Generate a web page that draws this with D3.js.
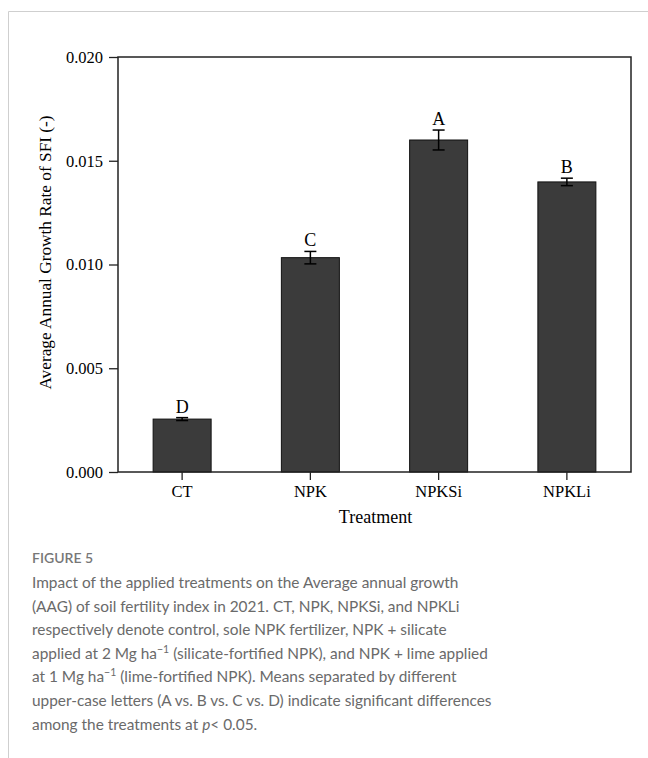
<!DOCTYPE html>
<html>
<head>
<meta charset="utf-8">
<script src="https://cdn.jsdelivr.net/npm/d3@7"></script>
<style>
  html, body { margin: 0; padding: 0; background: #fff; }
  svg { display: block; }
</style>
</head>
<body>
<svg id="fig" width="648" height="758"></svg>
<script>
// Treatments and their average annual growth rate of SFI
const treatments = ["CT", "NPK", "NPKSi", "NPKLi"];
const growthRate = [0.00255, 0.01033, 0.0160, 0.01398];
const errorSize = [0.00007, 0.00030, 0.00048, 0.00018];
const groupLetters = ["D", "C", "A", "B"];
const yTicks = [0, 0.005, 0.010, 0.015, 0.020];

const captionLines = [
  [{t: "Impact of the applied treatments on the Average annual growth"}],
  [{t: "(AAG) of soil fertility index in 2021. CT, NPK, NPKSi, and NPKLi"}],
  [{t: "respectively denote control, sole NPK fertilizer, NPK + silicate"}],
  [{t: "applied at 2 Mg ha"}, {t: "\u22121", sup: true}, {t: " (silicate-fortified NPK), and NPK + lime applied"}],
  [{t: "at 1 Mg ha"}, {t: "\u22121", sup: true}, {t: " (lime-fortified NPK). Means separated by different"}],
  [{t: "upper-case letters (A vs. B vs. C vs. D) indicate significant differences"}],
  [{t: "among the treatments at "}, {t: "p", it: true}, {t: "< 0.05."}]
];

const svg = d3.select("#fig");
const serif = "'Liberation Serif', 'Times New Roman', serif";

// card outline
svg.append("path")
  .attr("d", "M8.5,758 V11.5 H648")
  .attr("fill", "none").attr("stroke", "#cfcfcf").attr("stroke-width", 1);

const plot = {left: 118, right: 631, top: 57, bottom: 472};

const x = d3.scaleBand().domain(treatments).range([plot.left, plot.right]).paddingInner(0.55).paddingOuter(0.275);
const y = d3.scaleLinear().domain([0, 0.020]).range([plot.bottom, plot.top]);

// bars
svg.append("g").selectAll("rect").data(treatments).join("rect")
  .attr("x", d => x(d) + x.bandwidth() / 2 - 29)
  .attr("width", 58)
  .attr("y", (d, i) => y(growthRate[i]))
  .attr("height", (d, i) => y(0) - y(growthRate[i]))
  .attr("fill", "#3b3b3b").attr("stroke", "#111").attr("stroke-width", 1);

// error bars
const eb = svg.append("g").attr("stroke", "#000").attr("stroke-width", 1.5);
treatments.forEach((d, i) => {
  const cx = x(d) + x.bandwidth() / 2;
  const y1 = y(growthRate[i] + errorSize[i]);
  const y2 = y(growthRate[i] - errorSize[i]);
  eb.append("line").attr("x1", cx).attr("x2", cx).attr("y1", y1).attr("y2", y2);
  eb.append("line").attr("x1", cx - 6).attr("x2", cx + 6).attr("y1", y1).attr("y2", y1);
  eb.append("line").attr("x1", cx - 6).attr("x2", cx + 6).attr("y1", y2).attr("y2", y2);
});

// significance letters
svg.append("g").selectAll("text").data(treatments).join("text")
  .attr("x", d => x(d) + x.bandwidth() / 2)
  .attr("y", (d, i) => y(growthRate[i] + errorSize[i]) - 5)
  .attr("text-anchor", "middle")
  .attr("font-family", serif).attr("font-size", 18).attr("fill", "#000")
  .text((d, i) => groupLetters[i]);

// frame
svg.append("rect")
  .attr("x", plot.left).attr("y", plot.top)
  .attr("width", plot.right - plot.left).attr("height", plot.bottom - plot.top)
  .attr("fill", "none").attr("stroke", "#222").attr("stroke-width", 1.5);

// y axis
const yAxis = svg.append("g").attr("transform", `translate(${plot.left},0)`)
  .call(d3.axisLeft(y).tickValues(yTicks).tickFormat(d3.format(".3f")).tickSize(9).tickPadding(6));
yAxis.select(".domain").remove();
yAxis.selectAll("line").attr("stroke", "#222").attr("stroke-width", 1.3);
yAxis.selectAll("text").attr("font-family", serif).attr("font-size", 16.5).attr("fill", "#000");

// x axis
const xAxis = svg.append("g").attr("transform", `translate(0,${plot.bottom})`)
  .call(d3.axisBottom(x).tickSize(8).tickPadding(5));
xAxis.select(".domain").remove();
xAxis.selectAll("line").attr("stroke", "#222").attr("stroke-width", 1.3);
xAxis.selectAll("text").attr("font-family", serif).attr("font-size", 16.5).attr("fill", "#000");

// axis titles
svg.append("text")
  .attr("x", (plot.left + plot.right) / 2 + 1).attr("y", 523)
  .attr("text-anchor", "middle")
  .attr("font-family", serif).attr("font-size", 18).attr("fill", "#000")
  .text("Treatment");

svg.append("text")
  .attr("transform", `translate(51,${(plot.top + plot.bottom) / 2 - 12}) rotate(-90)`)
  .attr("text-anchor", "middle")
  .attr("font-family", serif).attr("font-size", 17.3).attr("fill", "#000")
  .text("Average Annual Growth Rate of SFI (-)");

// caption
const sans = "Lato, 'Open Sans', sans-serif";
svg.append("text")
  .attr("x", 32).attr("y", 563)
  .attr("font-family", sans).attr("font-size", 14).attr("font-weight", 600)
  .attr("fill", "#777")
  .text("FIGURE 5");

const cap = svg.append("g")
  .attr("font-family", sans).attr("font-size", 15.4).attr("fill", "#6a6a6a");
captionLines.forEach((parts, li) => {
  const t = cap.append("text").attr("x", 32).attr("y", 588 + li * 23.6);
  parts.forEach((p, i) => {
    const s = t.append("tspan").text(p.t);
    if (p.sup) s.attr("font-size", 10.5).attr("dy", -6);
    if (p.it) s.attr("font-style", "italic");
    // return to the baseline after a superscript
    if (i > 0 && parts[i - 1].sup) s.attr("dy", 6);
  });
});
</script>
</body>
</html>
